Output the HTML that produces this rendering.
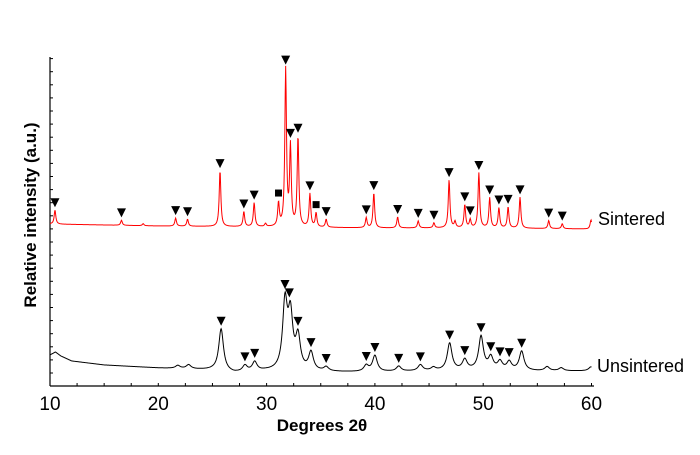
<!DOCTYPE html>
<html><head><meta charset="utf-8"><style>
html,body{margin:0;padding:0;background:#fff;}
svg{display:block;font-family:"Liberation Sans",Arial,sans-serif;}
</style></head><body>
<svg id="chart" width="700" height="455" viewBox="0 0 700 455" xmlns="http://www.w3.org/2000/svg">
<g id="axes"></g>
<g id="series"></g>
<g id="markers"></g>
<text x="598" y="225" font-size="18" fill="#000">Sintered</text>
<text x="597" y="372" font-size="18" fill="#000">Unsintered</text>
<text x="322" y="431" font-size="17" font-weight="bold" text-anchor="middle">Degrees 2θ</text>
<text transform="translate(36,215) rotate(-90)" font-size="17" font-weight="bold" text-anchor="middle">Relative intensity (a.u.)</text>
</svg>
<script>
const xTicks = [10, 20, 30, 40, 50, 60];
const sinteredBaseDeg = [10, 20, 30, 40, 50, 60];
const sinteredBaseVal = [162, 160, 159, 158, 158, 157];
const sinteredPeakDeg = [10.46, 16.6, 18.6, 21.6, 22.7, 25.7, 27.9, 28.85, 29.9, 31.1, 31.76, 32.2, 32.9, 34.0, 34.57, 35.5, 39.2, 39.9, 42.1, 44.0, 45.45, 46.85, 47.4, 48.3, 48.8, 49.6, 50.6, 51.45, 52.3, 53.4, 56.05, 57.3, 59.95];
const sinteredPeakHt  = [14, 5, 2, 8, 7, 56, 15, 24, 3, 23, 157, 79, 90, 33, 14, 8, 10, 35, 11, 7, 5, 48, 6, 23, 8, 55, 30, 20, 21, 31, 8, 5, 9];
const unsinteredBaseDeg = [10, 10.5, 11, 12, 15, 20, 25, 27, 30, 37, 40, 45, 50, 55, 60];
const unsinteredBaseVal = [31, 34, 30, 25, 21, 18, 16, 13, 15, 14, 14, 15, 16, 15, 15];
const unsinteredPeakDeg = [21.8, 22.8, 25.8, 28.0, 28.9, 31.7, 32.2, 32.9, 34.1, 35.5, 39.2, 40.0, 42.2, 44.2, 45.4, 46.9, 48.3, 49.8, 50.7, 51.55, 52.4, 53.55, 55.9, 57.2, 59.95];
const unsinteredPeakHt  = [3, 4, 42, 6, 9, 66, 52, 32, 18, 4, 6, 16, 5, 6, 3, 27, 10, 33, 12, 8, 8, 19, 4, 3, 4];
const sinteredTriangles = [10.46, 16.6, 21.6, 22.7, 25.7, 27.9, 28.85, 31.76, 32.2, 32.9, 34.0, 35.5, 39.2, 39.9, 42.1, 44.0, 45.45, 46.85, 48.3, 48.8, 49.6, 50.6, 51.45, 52.3, 53.4, 56.05, 57.3];
const sinteredSquares = [31.1, 34.57];
const unsinteredTriangles = [25.8, 28.0, 28.9, 31.7, 32.1, 32.9, 34.1, 35.5, 39.2, 40.0, 42.2, 44.2, 46.9, 48.3, 49.8, 50.7, 51.55, 52.4, 53.55];

const NS = "http://www.w3.org/2000/svg";
const X0 = 50, X1 = 591.5, Y0 = 386, Y1 = 56;
function xs(d){ return X0 + (d - 10) / 50 * (X1 - X0); }
function ys(v){ return Y0 - v / 330 * (Y0 - Y1); }
function interp(ds, vs, d){
  if (d <= ds[0]) return vs[0];
  for (let i = 1; i < ds.length; i++) if (d <= ds[i]) { const t = (d - ds[i-1]) / (ds[i] - ds[i-1]); return vs[i-1] + t * (vs[i] - vs[i-1]); }
  return vs[vs.length-1];
}
function curve(bd, bv, pd, ph, w, d){
  let v = interp(bd, bv, d);
  for (let i = 0; i < pd.length; i++) { const u = (d - pd[i]) / w; v += ph[i] / (1 + u*u); }
  return v;
}
const ax = document.getElementById('axes');
function mk(tag, attrs, parent){ const e = document.createElementNS(NS, tag); for (const k in attrs) e.setAttribute(k, attrs[k]); parent.appendChild(e); return e; }
let e = mk('line', {x1:X0, y1:Y0, x2:594, y2:Y0, stroke:'#000', 'stroke-width':1.2}, ax);


e = mk('line', {x1:X0, y1:Y0, x2:X0, y2:57, stroke:'#000', 'stroke-width':1.2}, ax);


for (let d = 10; d <= 60.01; d += 2.5) {
  const t = mk('line', {x1:xs(d), y1:Y0, x2:xs(d), y2:Y0-3, stroke:'#000', 'stroke-width':1}, ax);
  
  
}
for (let y = Y0 - 13; y > 58; y -= 13.1) {
  const t = mk('line', {x1:X0, y1:y, x2:X0+3, y2:y, stroke:'#000', 'stroke-width':1}, ax);
  
  
}
xTicks.forEach(v => {
  const t = mk('text', {x:xs(v), y:410, 'font-size':19, 'text-anchor':'middle'}, ax);
  t.textContent = v;
  
  
});
const sg = document.getElementById('series');
function drawSeries(bd, bv, pd, ph, w, color, name){
  let pts = [];
  for (let d = 10; d <= 60.0001; d += 0.04) pts.push(xs(d).toFixed(2) + ',' + ys(curve(bd, bv, pd, ph, w, d)).toFixed(2));
  const p = mk('polyline', {points: pts.join(' '), fill:'none', stroke:color, 'stroke-width':1}, sg);
  
  
}
drawSeries(sinteredBaseDeg, sinteredBaseVal, sinteredPeakDeg, sinteredPeakHt, 0.09, '#ff0000', 'sintered-pattern');
drawSeries(unsinteredBaseDeg, unsinteredBaseVal, unsinteredPeakDeg, unsinteredPeakHt, 0.26, '#000000', 'unsintered-pattern');
const mg = document.getElementById('markers');
function peakTop(bd, bv, pd, ph, w, d){
  let m = 0; for (let t = d - 0.15; t <= d + 0.15; t += 0.02) m = Math.max(m, curve(bd, bv, pd, ph, w, t)); return m;
}
function tri(d, v, name){
  const x = xs(d), yb = ys(v) - 3;
  const p = mk('polygon', {points: (x-4.5)+','+(yb-9)+' '+(x+4.5)+','+(yb-9)+' '+x+','+yb, fill:'#000'}, mg);
  
  
}
sinteredTriangles.forEach(d => tri(d, peakTop(sinteredBaseDeg, sinteredBaseVal, sinteredPeakDeg, sinteredPeakHt, 0.09, d), 'sintered-peak-marker'));
unsinteredTriangles.forEach(d => tri(d, peakTop(unsinteredBaseDeg, unsinteredBaseVal, unsinteredPeakDeg, unsinteredPeakHt, 0.26, d), 'unsintered-peak-marker'));
sinteredSquares.forEach(d => {
  const v = peakTop(sinteredBaseDeg, sinteredBaseVal, sinteredPeakDeg, sinteredPeakHt, 0.09, d);
  const r = mk('rect', {x: xs(d)-3.5, y: ys(v)-11, width:7, height:7, fill:'#000'}, mg);
  
  
});
</script>
</body></html>
